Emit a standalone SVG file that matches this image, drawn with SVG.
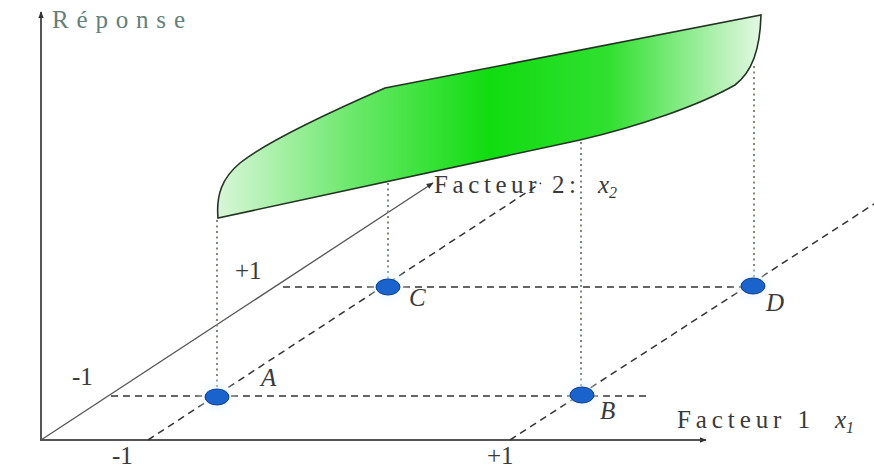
<svg xmlns="http://www.w3.org/2000/svg" width="874" height="469" viewBox="0 0 874 469">
  <style>
    .lbl { font-family: "Liberation Serif", "DejaVu Serif", serif; font-size: 25px; fill: #3a3a3a; }
    .it { font-style: italic; }
    .axis { stroke: #555; stroke-width: 2; fill: none; }
    .dash { stroke: #333; stroke-width: 1.5; stroke-dasharray: 7 5; fill: none; }
    .dot { stroke: #7c8c7c; stroke-width: 2; stroke-dasharray: 2 3.5; fill: none; }
    .pt { fill: #1a62cc; stroke: #0e3f8e; stroke-width: 1; }
    .halo { fill: url(#halo); }
  </style>
  <defs>
    <marker id="arr" viewBox="0 0 10 10" refX="9" refY="5" markerWidth="7" markerHeight="7" orient="auto" markerUnits="userSpaceOnUse">
      <path d="M0,1 L10,5 L0,9 z" fill="#333"/>
    </marker>
    <linearGradient id="surf" gradientUnits="userSpaceOnUse" x1="218" y1="0" x2="761" y2="0">
      <stop offset="0" stop-color="#d8f6d8"/>
      <stop offset="0.25" stop-color="#6ae86a"/>
      <stop offset="0.5" stop-color="#10dc10"/>
      <stop offset="0.72" stop-color="#30e030"/>
      <stop offset="1" stop-color="#e4f7e4"/>
    </linearGradient>
    <radialGradient id="halo">
      <stop offset="0" stop-color="#d6ecff" stop-opacity="0.9"/>
      <stop offset="1" stop-color="#ffffff" stop-opacity="0"/>
    </radialGradient>
  </defs>

  <rect width="874" height="469" fill="#ffffff"/>

  <g id="surface">
    <path d="M218,218 C216,195 222,178 240,163 C265,143 330,112 385,88 L761,15 C760,50 752,72 735,85 C700,105 640,126 580,140 Z" fill="url(#surf)" stroke="#243424" stroke-width="1.6"/>
  </g>

  <g id="axes">
    <line class="axis" x1="41" y1="441" x2="41" y2="12" marker-end="url(#arr)"/>
    <line class="axis" x1="40" y1="440" x2="706" y2="440" marker-end="url(#arr)"/>
    <line x1="41" y1="440" x2="433" y2="183" stroke="#555" stroke-width="1.3" marker-end="url(#arr)"/>
    <text class="lbl" x="52" y="28" style="fill:#62817a" textLength="133" lengthAdjust="spacing">Réponse</text>
    <text class="lbl" x="677" y="428" textLength="133" lengthAdjust="spacing">Facteur 1</text>
    <text class="lbl it" x="835" y="428">x<tspan font-size="16" dy="5">1</tspan></text>
    <text class="lbl" x="434" y="193" textLength="142" lengthAdjust="spacing">Facteur 2:</text>
    <text class="lbl it" x="598" y="193">x<tspan font-size="16" dy="5">2</tspan></text>
    <text class="lbl" x="72" y="385">-1</text>
    <text class="lbl" x="235" y="279">+1</text>
    <text class="lbl" x="112" y="464">-1</text>
    <text class="lbl" x="487" y="464">+1</text>
  </g>

  <g id="connectors">
    <line class="dash" x1="148" y1="440" x2="541" y2="183"/>
    <line class="dash" x1="510" y1="440" x2="874" y2="204"/>
    <line class="dash" x1="111" y1="396" x2="648" y2="396"/>
    <line class="dash" x1="283" y1="287" x2="745" y2="287"/>
    <line class="dot" x1="217" y1="220" x2="217" y2="390"/>
    <line class="dot" x1="388" y1="183" x2="388" y2="281"/>
    <line class="dot" x1="581" y1="142" x2="581" y2="389"/>
    <line class="dot" x1="754" y1="66" x2="754" y2="280"/>
  </g>

  <g id="point-A">
    <ellipse class="halo" cx="217" cy="397" rx="24" ry="22"/>
    <ellipse class="pt" cx="217" cy="397" rx="12" ry="8"/>
    <text class="lbl it" x="261" y="386">A</text>
  </g>
  <g id="point-B">
    <ellipse class="halo" cx="582" cy="395" rx="24" ry="22"/>
    <ellipse class="pt" cx="582" cy="395" rx="12" ry="8"/>
    <text class="lbl it" x="600" y="419">B</text>
  </g>
  <g id="point-C">
    <ellipse class="halo" cx="388" cy="287" rx="24" ry="22"/>
    <ellipse class="pt" cx="388" cy="287" rx="12" ry="8"/>
    <text class="lbl it" x="409" y="306">C</text>
  </g>
  <g id="point-D">
    <ellipse class="halo" cx="753" cy="286" rx="24" ry="22"/>
    <ellipse class="pt" cx="753" cy="286" rx="12" ry="8"/>
    <text class="lbl it" x="766" y="311">D</text>
  </g>
</svg>
